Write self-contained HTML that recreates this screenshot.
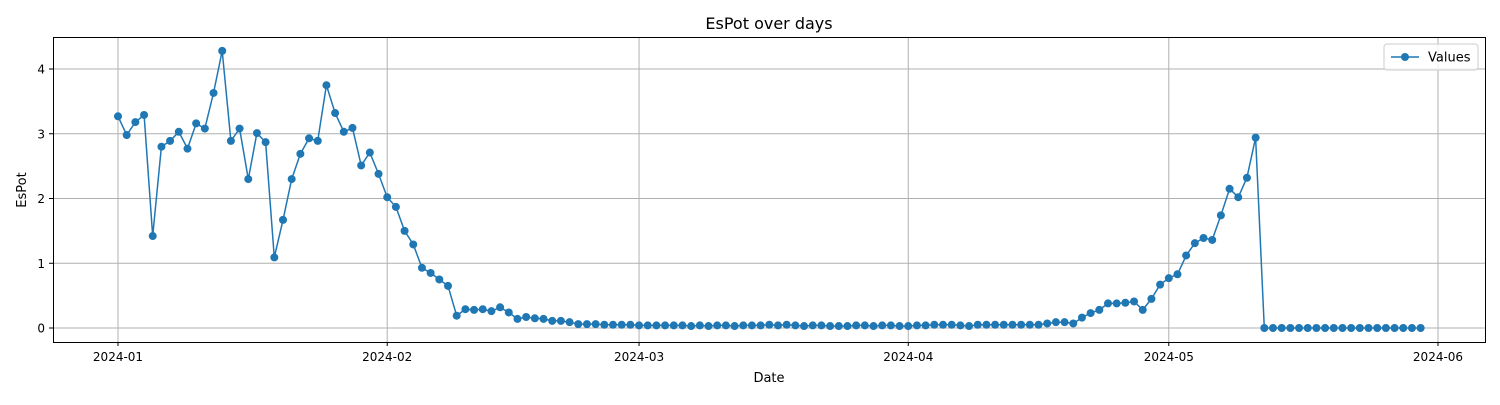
<!DOCTYPE html>
<html><head><meta charset="utf-8"><style>
body{margin:0;background:#fff;font-family:"Liberation Sans","DejaVu Sans",sans-serif}
svg text{font-family:"DejaVu Sans","Liberation Sans",sans-serif;fill:#000}
</style></head><body>
<svg id="chart" width="1500" height="400" xmlns="http://www.w3.org/2000/svg">
<rect width="1500" height="400" fill="#fff"/>
<text x="769" y="29" font-size="16" text-anchor="middle">EsPot over days</text>
<g id="grid"></g>
<g id="series"></g>
<rect x="53.5" y="37.5" width="1432" height="305" fill="none" stroke="#000" stroke-width="1"/>
<g id="ticks"></g>
<text x="769" y="382" font-size="13" text-anchor="middle">Date</text>
<text x="0" y="0" font-size="13" text-anchor="middle" transform="translate(26,190) rotate(-90)">EsPot</text>
<g>
<rect x="1384" y="44" width="94" height="26" rx="3" fill="#fff" fill-opacity="0.8" stroke="#ccc"/>
<line x1="1391" y1="57" x2="1419" y2="57" stroke="#1f77b4" stroke-width="1.5"/>
<circle cx="1405" cy="57" r="4" fill="#1f77b4"/>
<text x="1428" y="61.5" font-size="13">Values</text>
</g>
</svg>
<script>
const startDate = "2024-01-01";
const values = [3.27,2.98,3.18,3.29,1.42,2.80,2.89,3.03,2.77,3.16,3.08,3.63,4.28,2.89,3.08,2.30,3.01,2.87,1.09,1.67,2.30,2.69,2.93,2.89,3.75,3.32,3.03,3.09,2.51,2.71,2.38,
2.02,1.87,1.50,1.29,0.93,0.85,0.75,0.65,0.19,0.29,0.28,0.29,0.26,0.32,0.24,0.14,0.17,0.15,0.14,0.11,0.11,0.09,0.06,0.06,0.06,0.05,0.05,0.05,0.05,
0.04,0.04,0.04,0.04,0.04,0.04,0.03,0.04,0.03,0.04,0.04,0.03,0.04,0.04,0.04,0.05,0.04,0.05,0.04,0.03,0.04,0.04,0.03,0.03,0.03,0.04,0.04,0.03,0.04,0.04,0.03,
0.03,0.04,0.04,0.05,0.05,0.05,0.04,0.03,0.05,0.05,0.05,0.05,0.05,0.05,0.05,0.05,0.07,0.09,0.09,0.07,0.16,0.23,0.28,0.38,0.38,0.39,0.41,0.28,0.45,0.67,
0.77,0.83,1.12,1.31,1.39,1.36,1.74,2.15,2.02,2.32,2.94,0,0,0,0,0,0,0,0,0,0,0,0,0,0,0,0,0,0,0];
const xTickLabels = ["2024-01","2024-02","2024-03","2024-04","2024-05","2024-06"];
const xTickDays = [0,31,60,91,121,152];
const yTicks = [0,1,2,3,4];

const NS="http://www.w3.org/2000/svg";
const X = d => 118 + d * (1438 - 118) / 152;
const Y = v => 328 - v * 64.75;
function mk(tag, attrs, parent){const e=document.createElementNS(NS,tag);for(const k in attrs)e.setAttribute(k,attrs[k]);parent.appendChild(e);return e;}
const grid=document.getElementById('grid'), ticks=document.getElementById('ticks'), series=document.getElementById('series');
xTickDays.forEach((d,i)=>{
  const x=X(d);
  const gl=mk('line',{x1:x,x2:x,y1:37,y2:342,stroke:'#b0b0b0','stroke-width':1},grid);
  
  
  mk('line',{x1:x,x2:x,y1:342,y2:346,stroke:'#000'},ticks);
  const t=mk('text',{x:x,y:361,'font-size':12,'text-anchor':'middle'},ticks);
  t.textContent=xTickLabels[i];
  
  
});
yTicks.forEach(v=>{
  const y=Y(v);
  const gl=mk('line',{x1:53,x2:1485,y1:y,y2:y,stroke:'#b0b0b0','stroke-width':1},grid);
  
  
  mk('line',{x1:49,x2:53,y1:y,y2:y,stroke:'#000'},ticks);
  const t=mk('text',{x:45,y:y+4.5,'font-size':12,'text-anchor':'end'},ticks);
  t.textContent=String(v);
  
  
});
const pts=values.map((v,i)=>X(i).toFixed(1)+','+Y(v).toFixed(1)).join(' ');
const line=mk('polyline',{points:pts,fill:'none',stroke:'#1f77b4','stroke-width':1.5},series);


values.forEach((v,i)=>{
  const c=mk('circle',{cx:X(i),cy:Y(v),r:4,fill:'#1f77b4'},series);
  
  
});
</script>
</body></html>
